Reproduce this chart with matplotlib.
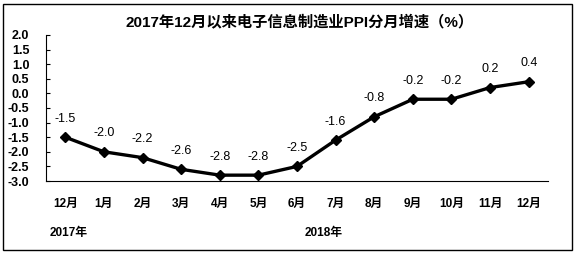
import matplotlib
matplotlib.use("Agg")
import matplotlib.pyplot as plt
from matplotlib.patches import Rectangle

plt.rcParams['font.family'] = ['Liberation Sans', 'Noto Sans CJK SC', 'DejaVu Sans']

# data
months = ["12月", "1月", "2月", "3月", "4月", "5月", "6月", "7月", "8月", "9月", "10月", "11月", "12月"]
values = [-1.5, -2.0, -2.2, -2.6, -2.8, -2.8, -2.5, -1.6, -0.8, -0.2, -0.2, 0.2, 0.4]
yticks = [2.0, 1.5, 1.0, 0.5, 0.0, -0.5, -1.0, -1.5, -2.0, -2.5, -3.0]
title = "2017年12月以来电子信息制造业PPI分月增速（%）"

fig = plt.figure(figsize=(5.77, 2.54), dpi=100)
ax = fig.add_axes([46/577, 1 - 181/254, 502/577, 146/254])

x = range(len(months))
ax.plot(x, values, color="black", linewidth=2.4, marker="D", markersize=5.5)
for xi, v in zip(x, values):
    ax.annotate(f"{v:.1f}", (xi, v), xytext=(0, 9), textcoords="offset points",
                ha="center", va="bottom", fontsize=9)

ax.set_xlim(-0.5, len(months) - 0.5)
ax.set_ylim(-3.0, 2.0)
ax.set_yticks(yticks)
ax.set_yticklabels([f"{t:.1f}" for t in yticks], fontsize=9, fontweight="bold")
ax.tick_params(axis="y", direction="in", length=3, pad=12)
ax.set_xticks(list(x))
ax.set_xticklabels(months, fontsize=8.5, fontweight="bold")
ax.tick_params(axis="x", length=0, pad=12)
for s in ["top", "right"]:
    ax.spines[s].set_visible(False)
ax.spines["left"].set_linewidth(0.8)
ax.spines["bottom"].set_linewidth(0.8)

fig.text(300/577, 1 - 22/254, title, ha="center", va="center", fontsize=11, fontweight="bold")
fig.text(50/577, 1 - 233/254, "2017年", ha="left", va="center", fontsize=8.5, fontweight="bold")
fig.text(305/577, 1 - 233/254, "2018年", ha="left", va="center", fontsize=8.5, fontweight="bold")

fig.patches.append(Rectangle((3/577, 4/254), 569/577, 246/254, transform=fig.transFigure,
                             fill=False, edgecolor="black", linewidth=1))

fig.savefig("out.png", dpi=100)
